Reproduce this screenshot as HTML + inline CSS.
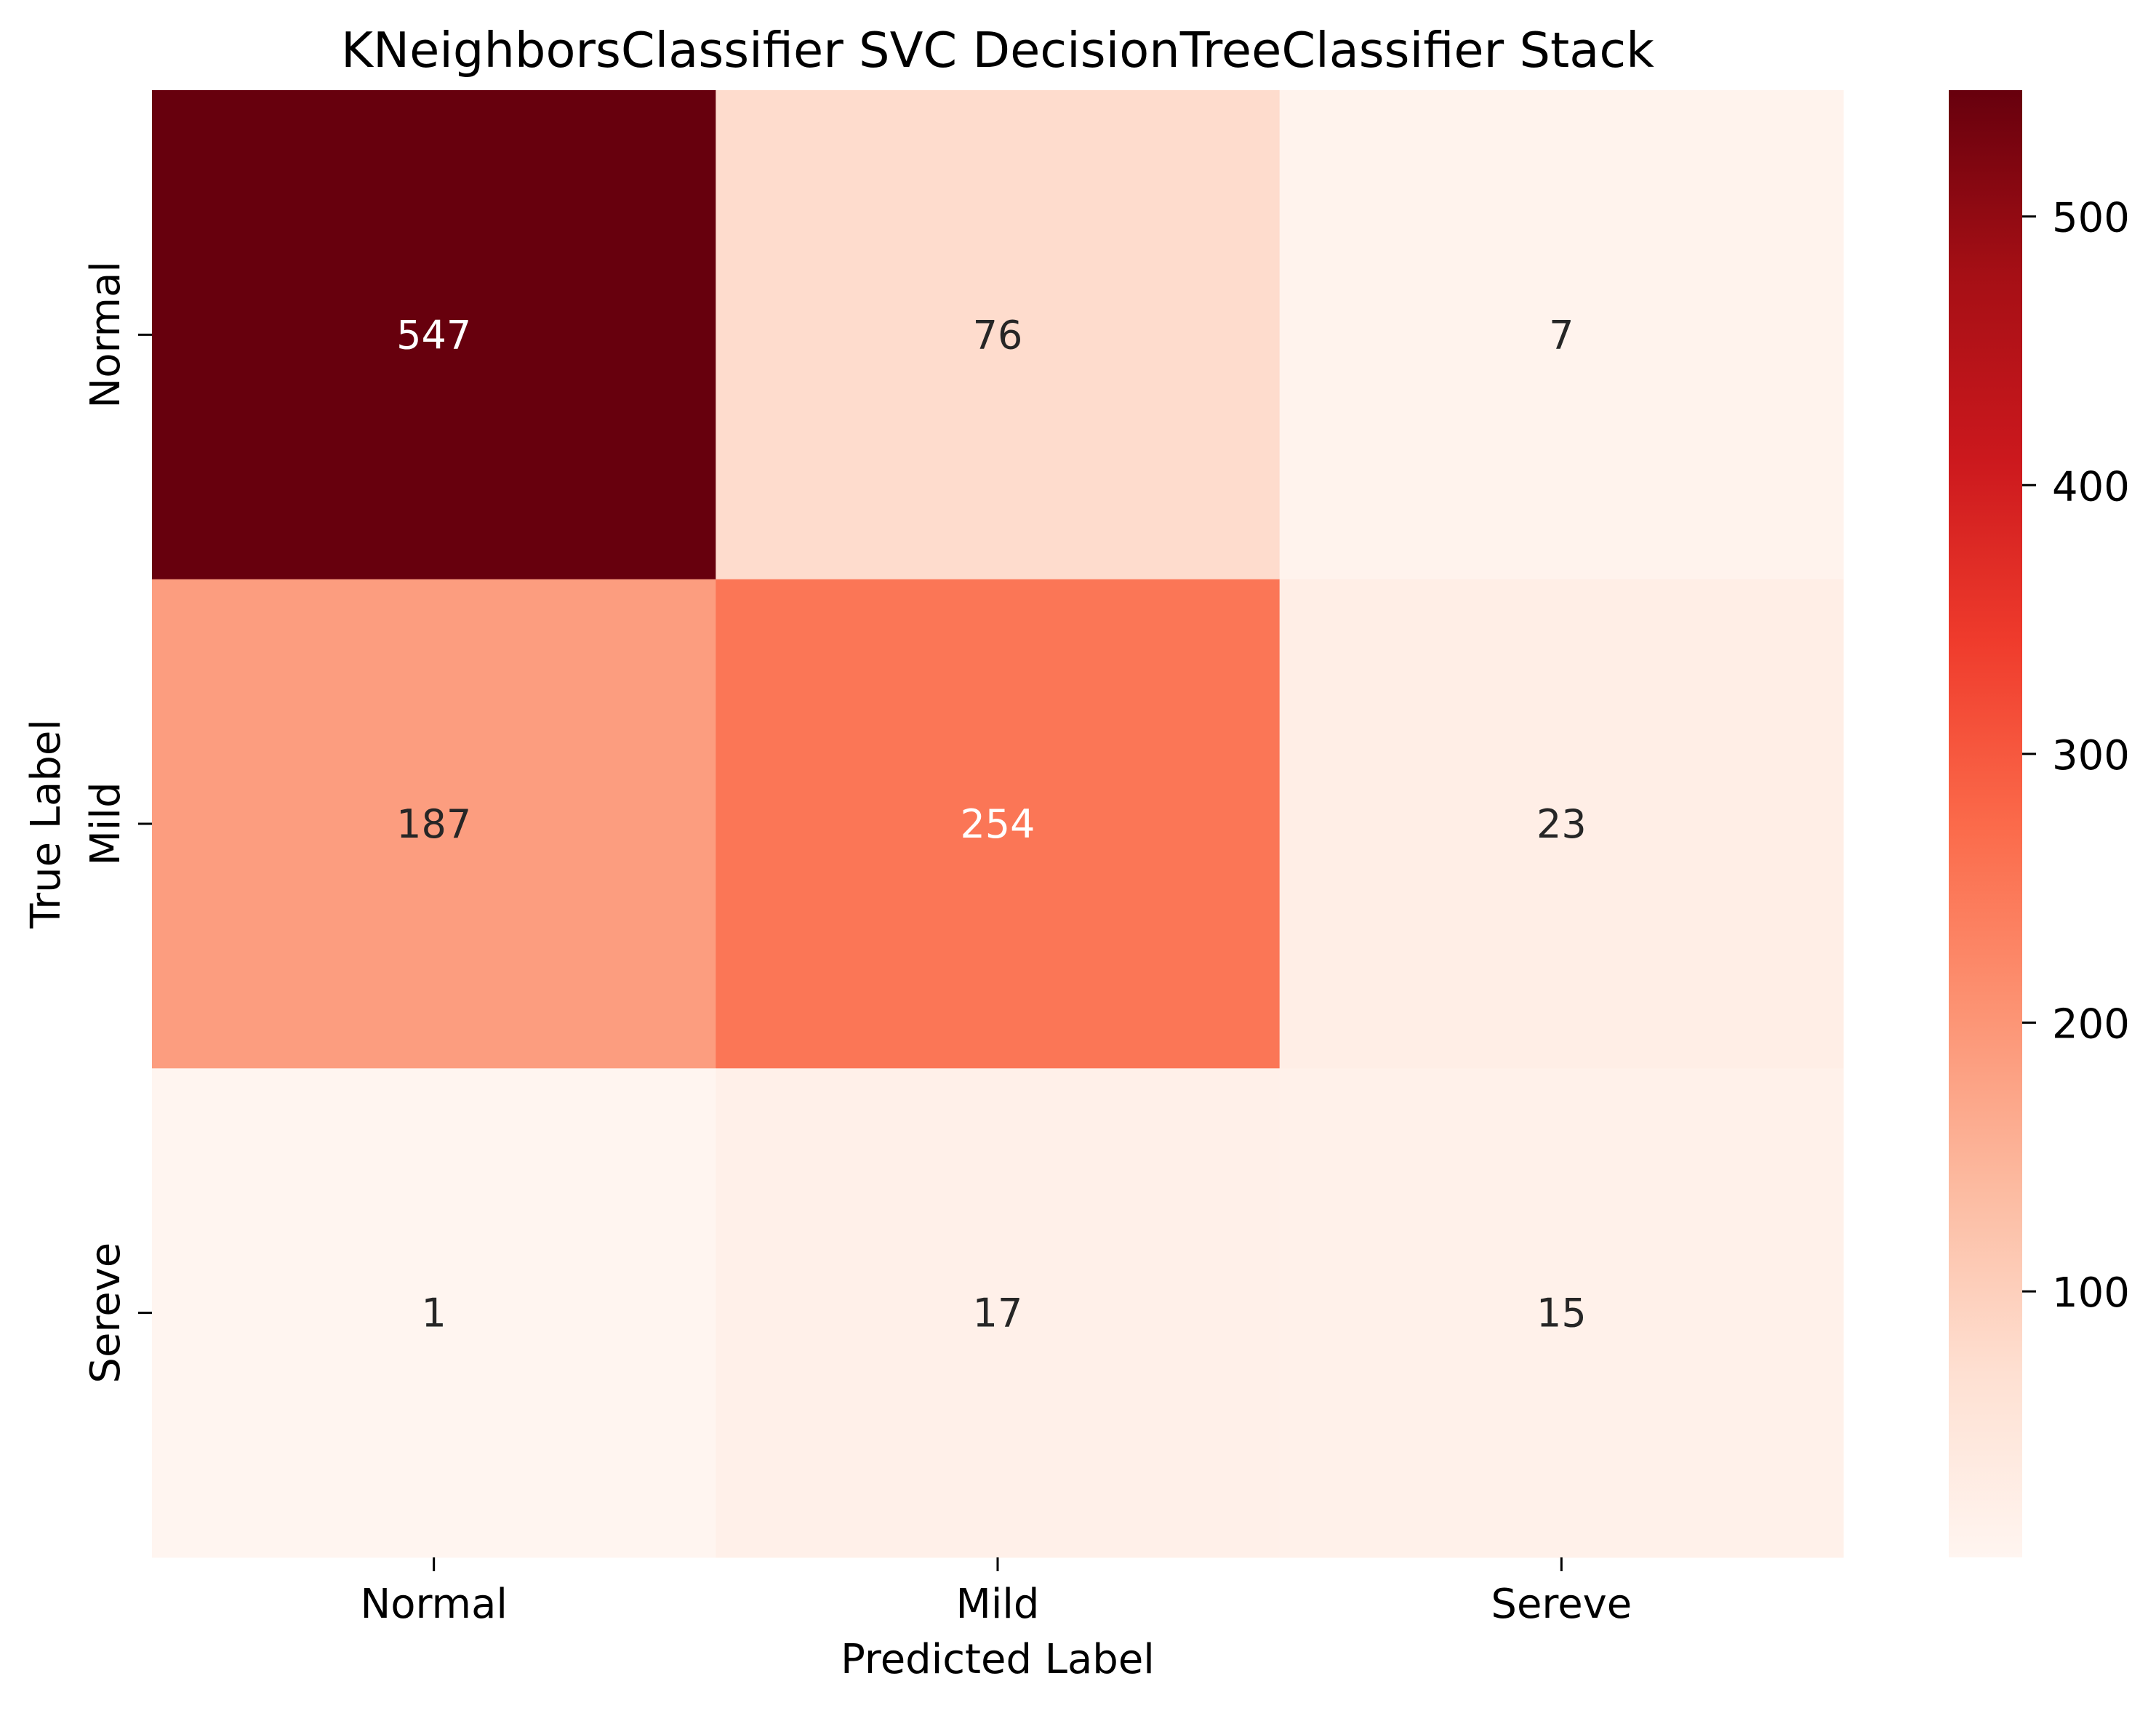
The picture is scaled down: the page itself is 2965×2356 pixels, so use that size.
<!DOCTYPE html>
<html><head><meta charset="utf-8"><style>body{margin:0;background:#fff}svg text{font-family:"DejaVu Sans","Liberation Sans",sans-serif;}</style></head>
<body>
<svg id="chart" width="2965" height="2351" xmlns="http://www.w3.org/2000/svg"></svg>
<script>
const classes = ["Normal","Mild","Sereve"];
const row0 = [547,76,7];
const row1 = [187,254,23];
const row2 = [1,17,15];
const cbTicks = [100,200,300,400,500];
const matrix = [row0,row1,row2];
const vmin = 1, vmax = 547;
const L=209,R=2535,T=124,B=2142;
const cw=(R-L)/3, ch=(B-T)/3;
const cbL=2680, cbR=2781;
const FS=56;
const stops=[[255,245,240],[254,224,210],[252,187,161],[252,146,114],[251,106,74],[239,59,44],[203,24,29],[165,15,21],[103,0,13]];
function cmap(t){t=Math.max(0,Math.min(1,t));const p=t*8,i=Math.min(7,Math.floor(p)),f=p-i;const a=stops[i],b=stops[i+1];return [0,1,2].map(k=>Math.round(a[k]+(b[k]-a[k])*f));}
function norm(v){return (v-vmin)/(vmax-vmin);}
function cbY(v){return B-(v-vmin)/(vmax-vmin)*(B-T);}
function relLum(c){const l=c.map(x=>{x/=255;return x<=0.03928?x/12.92:Math.pow((x+0.055)/1.055,2.4);});return 0.2126*l[0]+0.7152*l[1]+0.0722*l[2];}
const svg=document.getElementById('chart');
const NS='http://www.w3.org/2000/svg';
function mk(tag,attrs,parent){const e=document.createElementNS(NS,tag);for(const k in attrs)e.setAttribute(k,attrs[k]);(parent||svg).appendChild(e);return e;}
const defs=mk('defs',{});
const g=mk('linearGradient',{id:'cbg',x1:0,y1:1,x2:0,y2:0},defs);
for(let i=0;i<=8;i++){const c=stops[i];mk('stop',{offset:i/8,'stop-color':`rgb(${c})`},g);}
matrix.forEach((row,r)=>row.forEach((v,c)=>{
  const col=cmap(norm(v));
  const rect=mk('rect',{x:L+c*cw,y:T+r*ch,width:cw+0.5,height:ch+0.5,fill:`rgb(${col})`});
  
  
  const t=mk('text',{x:L+(c+0.5)*cw,y:T+(r+0.5)*ch+19,'font-size':54,'text-anchor':'middle',fill:relLum(col)<0.408?'#fff':'#262626'});
  t.textContent=v;
  
  
}));
classes.forEach((name,i)=>{
  const x=L+(i+0.5)*cw;
  mk('line',{x1:x,y1:B,x2:x,y2:B+19,stroke:'#000','stroke-width':3});
  const t=mk('text',{x:x,y:2225,'font-size':FS,'text-anchor':'middle',fill:'#000'});
  t.textContent=name;
  
  
  const y=T+(i+0.5)*ch;
  mk('line',{x1:L-19,y1:y,x2:L,y2:y,stroke:'#000','stroke-width':3});
  const ty=mk('text',{x:0,y:0,'font-size':FS,'text-anchor':'middle',fill:'#000',transform:`translate(164,${y}) rotate(-90)`});
  ty.textContent=name;
  
  
});
const cb=mk('rect',{x:cbL,y:T,width:cbR-cbL,height:B-T,fill:'url(#cbg)'});


cbTicks.forEach(v=>{
  const y=cbY(v);
  mk('line',{x1:cbR,y1:y,x2:cbR+19,y2:y,stroke:'#000','stroke-width':3});
  const t=mk('text',{x:2822,y:y+21,'font-size':FS,fill:'#000'});
  t.textContent=v;
  
  
});
const title=mk('text',{x:(L+R)/2,y:92,'font-size':67,'text-anchor':'middle',fill:'#000'});
title.textContent='KNeighborsClassifier SVC DecisionTreeClassifier Stack';


const xl=mk('text',{x:(L+R)/2,y:2301,'font-size':FS,'text-anchor':'middle',fill:'#000'});
xl.textContent='Predicted Label';


const yl=mk('text',{x:0,y:0,'font-size':FS,'text-anchor':'middle',fill:'#000',transform:`translate(82,${(T+B)/2}) rotate(-90)`});
yl.textContent='True Label';


</script>
</body></html>
